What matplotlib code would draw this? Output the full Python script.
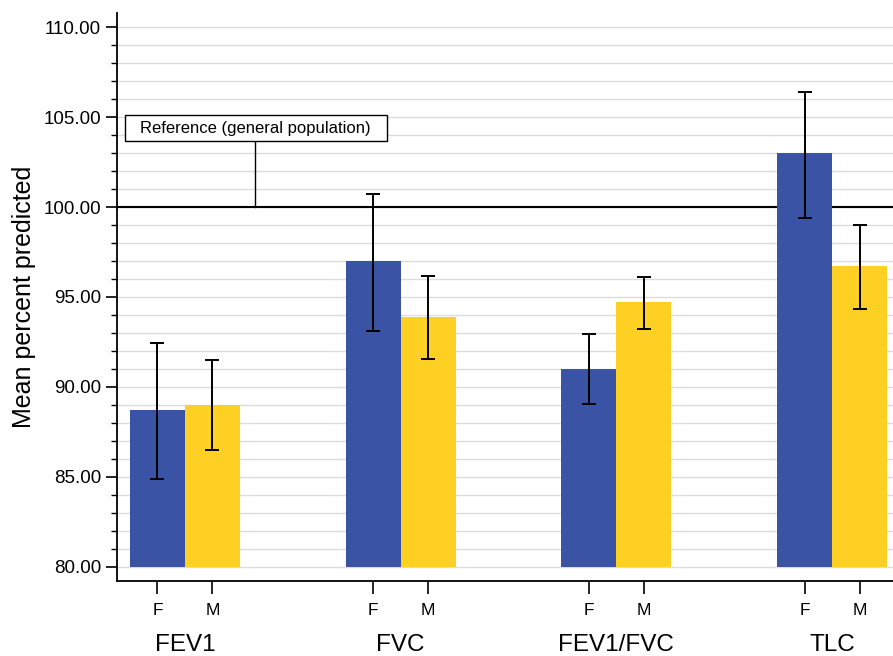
import matplotlib
matplotlib.use('Agg')
import matplotlib.pyplot as plt
import matplotlib.patches as patches
from matplotlib.ticker import MultipleLocator, FormatStrFormatter
import numpy as np

plt.rcParams['font.family'] = ['Liberation Sans', 'DejaVu Sans']

# values
groups = ['FEV1', 'FVC', 'FEV1/FVC', 'TLC']
female = [88.7, 97.0, 91.0, 103.0]
male = [89.0, 93.9, 94.7, 96.7]
female_lo = [84.85, 93.1, 89.05, 99.4]
female_hi = [92.45, 100.75, 92.95, 106.4]
male_lo = [86.5, 91.55, 93.2, 94.35]
male_hi = [91.5, 96.15, 96.1, 99.0]
reference_value = 100.0

blue = '#3a53a4'
yellow = '#ffd024'

fig = plt.figure(figsize=(8.93, 6.56), dpi=100)
ax = fig.add_axes([0.131, 0.1143, 0.869, 0.866])

x = np.arange(len(groups))
w = 0.255
xf = x - w / 2
xm = x + w / 2
base = 80.0

f_h = np.array(female) - base
m_h = np.array(male) - base
ax.bar(xf, f_h, w, bottom=base, color=blue, zorder=3)
ax.bar(xm, m_h, w, bottom=base, color=yellow, zorder=3)

f_err = [np.array(female) - np.array(female_lo), np.array(female_hi) - np.array(female)]
m_err = [np.array(male) - np.array(male_lo), np.array(male_hi) - np.array(male)]
ax.errorbar(xf, female, yerr=f_err, fmt='none', ecolor='black', elinewidth=1.4,
            capsize=5, capthick=1.4, zorder=4)
ax.errorbar(xm, male, yerr=m_err, fmt='none', ecolor='black', elinewidth=1.4,
            capsize=5, capthick=1.4, zorder=4)

# reference line and its label box
ax.axhline(reference_value, color='black', lw=1.5, zorder=2)
ax.plot([0.324, 0.324], [reference_value, 103.67], color='black', lw=1.0, zorder=2)
box = patches.Rectangle((-0.278, 103.67), 1.213, 1.44, fc='white', ec='black',
                        lw=1.0, zorder=5)
ax.add_patch(box)
ax.text(0.328, 104.39, 'Reference (general population)', fontsize=12, ha='center',
        va='center', zorder=6)

ax.set_ylim(79.2, 110.8)
ax.set_xlim(-0.315, 3.282)
ax.yaxis.set_major_locator(MultipleLocator(5))
ax.yaxis.set_minor_locator(MultipleLocator(1))
ax.yaxis.set_major_formatter(FormatStrFormatter('%.2f'))
ax.grid(axis='y', which='both', color='#dcdcdc', lw=1.0, zorder=0)
ax.set_axisbelow(True)

ax.set_xticks(np.concatenate([xf, xm]))
ax.set_xticklabels(['F'] * 4 + ['M'] * 4, fontsize=12.5)
ax.tick_params(axis='x', direction='out', length=9, width=1.2, pad=7)
ax.tick_params(axis='y', which='major', direction='out', length=8, width=1.2, labelsize=13.5)
ax.tick_params(axis='y', which='minor', direction='out', length=4, width=1.0)

for xi, g in zip(x, groups):
    ax.text(xi, 75.65, g, fontsize=17.5, ha='center', va='center')

for s in ['top', 'right']:
    ax.spines[s].set_visible(False)
for s in ['left', 'bottom']:
    ax.spines[s].set_linewidth(1.3)

ax.set_ylabel('Mean percent predicted', fontsize=18, labelpad=5)

fig.savefig('out.png', dpi=100)
